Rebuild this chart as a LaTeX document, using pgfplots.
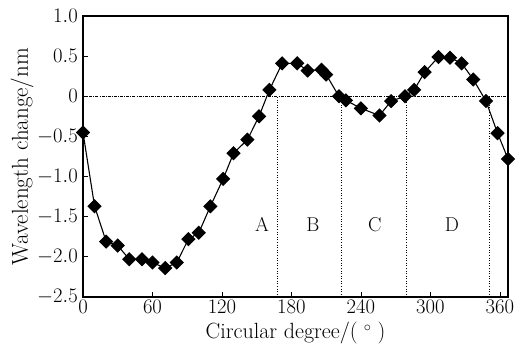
\documentclass[border=0pt]{standalone}
\usepackage{pgfplots}
\pgfplotsset{compat=1.18}
\usetikzlibrary{calc}
\pgfplotstableread{
x y
0 -0.45
10 -1.37
20 -1.81
30 -1.86
40 -2.03
51 -2.03
60 -2.07
71 -2.14
81 -2.07
91 -1.78
100 -1.70
110 -1.37
121 -1.03
130 -0.71
142 -0.54
152 -0.25
161 0.08
172 0.41
185 0.41
194 0.32
206 0.33
210 0.27
221 0.00
227 -0.05
240 -0.15
256 -0.24
266 -0.06
278 0.00
286 0.08
295 0.30
307 0.49
317 0.48
327 0.41
337 0.21
348 -0.06
358 -0.46
367 -0.78
}\datatable
\begin{document}
\begin{tikzpicture}
\begin{axis}[
  scale only axis,
  width=425bp, height=281bp,
  xmin=0, xmax=367, ymin=-2.5, ymax=1.0,
  xtick={0,60,120,180,240,300,360},
  ytick={-2.5,-2,-1.5,-1,-0.5,0,0.5,1},
  yticklabels={$-2.5$,$-2.0$,$-1.5$,$-1.0$,$-0.5$,$0$,$0.5$,$1.0$},
  tick align=inside,
  xtick pos=bottom, ytick pos=left,
  major tick length=5bp,
  tick style={black, line width=0.8pt},
  axis line style={black, line width=1.2pt},
  font=\fontsize{20bp}{22bp}\selectfont,
  ticklabel style={font=\fontsize{20.5bp}{22bp}\selectfont, inner sep=0pt},
  yticklabel style={xshift=-5bp},
  xticklabel style={yshift=-3bp},
  xlabel={Circular degree/(\;$^{\circ}$\;)},
  ylabel={Wavelength change/nm},
  label style={font=\fontsize{23bp}{25bp}\selectfont, inner sep=0pt},
  xlabel style={at={(axis description cs:0.5,0)}, anchor=base, yshift=-41.5bp, font=\fontsize{22bp}{24bp}\selectfont},
  ylabel style={at={(axis description cs:-0.1435,0.5)}, anchor=center},
  clip=false,
]
\addplot[black, line width=0.5pt, dash pattern=on 3pt off 1.2pt on 0.8pt off 1.2pt] coordinates {(0,0) (367,0)};
\addplot[black, line width=0.6pt, dotted] coordinates {(167.5,-2.5) (167.5,0)};
\addplot[black, line width=0.6pt, dotted] coordinates {(223,-2.5) (223,0)};
\addplot[black, line width=0.6pt, dotted] coordinates {(279,-2.5) (279,0)};
\addplot[black, line width=0.6pt, dotted] coordinates {(351,-2.5) (351,0)};
\addplot[black, line width=1.1pt, mark=square*, mark size=4.5bp, mark options={rotate=45, solid, fill=black}] table[x=x,y=y] {\datatable};
\node at (axis cs:154.6,-1.6) {A};
\node at (axis cs:198.6,-1.6) {B};
\node at (axis cs:252,-1.6) {C};
\node at (axis cs:318.6,-1.6) {D};
\end{axis}
\pgfresetboundingbox
\path ($(current axis.south west)+(-83bp,-48bp)$) rectangle ($(current axis.north east)+(13bp,16bp)$);
\end{tikzpicture}
\end{document}
